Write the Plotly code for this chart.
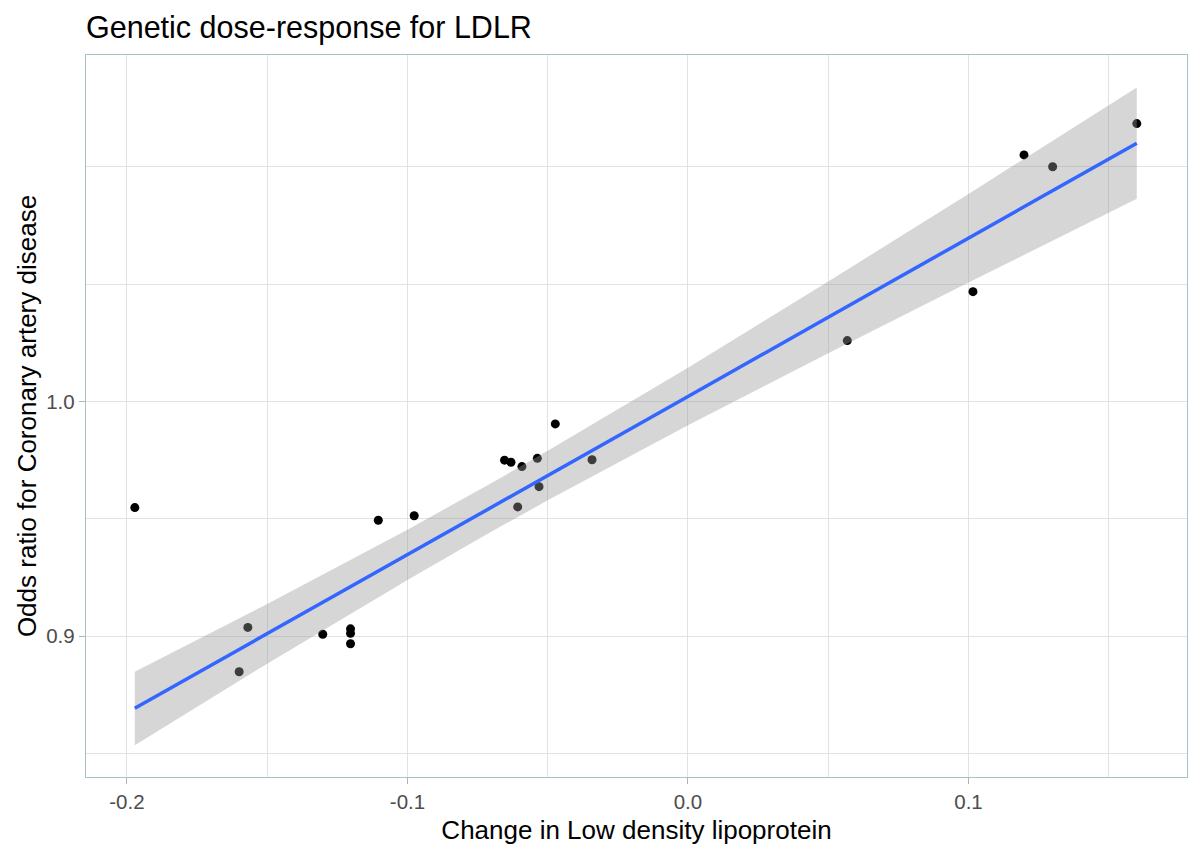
import plotly.graph_objects as go

# ---- data ----
ldl_change = [-0.1972, -0.1600, -0.1569, -0.1302, -0.1203, -0.1203, -0.1203, -0.1104,
              -0.0976, -0.0654, -0.0631, -0.0592, -0.0537, -0.0473, -0.0342, -0.0531,
              -0.0607, 0.0568, 0.1016, 0.1198, 0.1300, 0.1600]
odds_ratio = [0.9535, 0.8858, 0.9036, 0.9008, 0.9030, 0.9012, 0.8970, 0.9481,
              0.9500, 0.9740, 0.9731, 0.9712, 0.9748, 0.9900, 0.9742, 0.9625,
              0.9538, 1.0277, 1.0505, 1.1170, 1.1111, 1.1328]

# fitted smooth (lm) and its 95% band, read at several x positions
fit_x = [-0.1972, -0.15, -0.10, -0.07, -0.05, 0.0, 0.05, 0.10, 0.16]
fit_or = [0.8714, 0.9010, 0.9335, 0.9536, 0.9673, 1.0022, 1.0385, 1.0760, 1.1229]
ci_low = [0.8571, 0.8890, 0.9230, 0.9433, 0.9566, 0.9894, 1.0219, 1.0548, 1.0952]
ci_high = [0.8858, 0.9131, 0.9441, 0.9641, 0.9781, 1.0153, 1.0553, 1.0976, 1.1513]

x_ticks = [-0.2, -0.1, 0.0, 0.1]
x_tick_labels = ["-0.2", "-0.1", "0.0", "0.1"]
x_minor = [-0.15, -0.05, 0.05, 0.15]
y_ticks = [0.9, 1.0]
y_tick_labels = ["0.9", "1.0"]
y_minor = [0.8538, 0.9487, 1.0541, 1.1111]

FONT = "Liberation Sans, Arial, sans-serif"
GRID = "#DEE3E4"
BORDER = "#A6C2C6"

fig = go.Figure()

fig.add_trace(go.Scatter(
    x=ldl_change, y=odds_ratio, mode="markers",
    marker=dict(color="black", size=9, line=dict(width=0)),
    hoverinfo="skip", showlegend=False))

# confidence band (drawn over the points, like ggplot's geom_smooth)
fig.add_trace(go.Scatter(
    x=fit_x, y=ci_low, mode="lines", line=dict(width=0, color="rgba(0,0,0,0)"),
    hoverinfo="skip", showlegend=False))
fig.add_trace(go.Scatter(
    x=fit_x, y=ci_high, mode="lines", line=dict(width=0, color="rgba(0,0,0,0)"),
    fill="tonexty", fillcolor="rgba(153,153,153,0.4)",
    hoverinfo="skip", showlegend=False))

fig.add_trace(go.Scatter(
    x=fit_x, y=fit_or, mode="lines", line=dict(color="#3366FF", width=3.5),
    hoverinfo="skip", showlegend=False))

fig.update_layout(
    width=1200, height=857,
    margin=dict(l=86, r=13, t=55, b=80),
    paper_bgcolor="white", plot_bgcolor="white",
    font=dict(family=FONT, color="black"),
    title=dict(text="Genetic dose-response for LDLR", x=0, xref="paper", xanchor="left",
               y=1 - 27 / 857, yref="container", yanchor="middle",
               font=dict(size=30.5, color="black", family=FONT)),
    showlegend=False,
)

fig.update_xaxes(
    range=[-0.2146, 0.1779], tickmode="array", tickvals=x_ticks, ticktext=x_tick_labels,
    showgrid=True, gridcolor=GRID, gridwidth=1.2, zeroline=False,
    minor=dict(tickmode="array", tickvals=x_minor, showgrid=True, gridcolor=GRID,
               gridwidth=0.7, ticks=""),
    showline=True, linecolor=BORDER, linewidth=1.4, mirror=True,
    ticks="outside", ticklen=6, tickwidth=1.2, tickcolor="#B3B3B3",
    tickfont=dict(size=20.5, color="#4D4D4D", family=FONT),
    title=dict(text="Change in Low density lipoprotein", standoff=9,
               font=dict(size=26, color="black", family=FONT)),
    automargin=False,
)

fig.update_yaxes(
    type="log", range=[-0.07318, 0.06752], tickmode="array", tickvals=y_ticks,
    ticktext=y_tick_labels,
    showgrid=True, gridcolor=GRID, gridwidth=1.2, zeroline=False,
    minor=dict(tickmode="array", tickvals=y_minor, showgrid=True, gridcolor=GRID,
               gridwidth=0.7, ticks=""),
    showline=True, linecolor=BORDER, linewidth=1.4, mirror=True,
    ticks="outside", ticklen=6, tickwidth=1.2, tickcolor="#B3B3B3",
    tickfont=dict(size=20.5, color="#4D4D4D", family=FONT),
    title=dict(text="Odds ratio for Coronary artery disease", standoff=2,
               font=dict(size=26, color="black", family=FONT)),
    automargin=False,
)

fig.write_html("out.html")
